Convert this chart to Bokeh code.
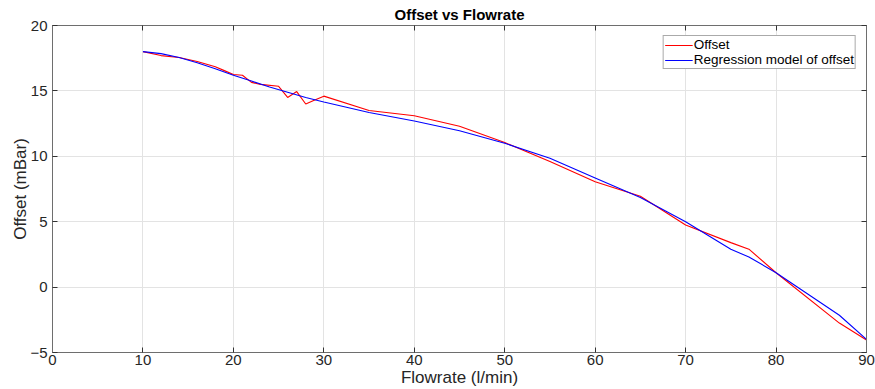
from bokeh.plotting import figure
from bokeh.models import LinearAxis, Range1d, Legend, LegendItem
from bokeh.embed import file_html
from bokeh.resources import INLINE

# Measured offset at each flowrate
flowrate = [10, 12, 14, 16, 18, 19, 20, 21, 22, 23, 25, 26, 27, 28, 29, 30,
            35, 40, 45, 50, 55, 60, 65, 70, 75, 77, 80, 87, 90]
offset = [18.0, 17.7, 17.55, 17.25, 16.85, 16.55, 16.25, 16.2, 15.65, 15.5, 15.35,
          14.5, 14.95, 14.0, 14.3, 14.6, 13.5, 13.1, 12.3, 11.05, 9.6, 8.05, 6.95,
          4.75, 3.4, 2.9, 1.1, -2.75, -4.05]
# Regression model evaluated over the same range
model_flowrate = [10, 12, 14, 16, 18, 20, 22, 24, 26, 28, 30, 35, 40, 45, 50,
                  55, 60, 65, 70, 75, 77, 80, 87, 90]
model = [18.0, 17.85, 17.55, 17.15, 16.7, 16.2, 15.75, 15.3, 14.9, 14.5, 14.15,
         13.35, 12.7, 11.95, 11.0, 9.85, 8.35, 6.85, 5.0, 2.9, 2.3, 1.1, -2.15, -4.0]

x_ticks = [0, 10, 20, 30, 40, 50, 60, 70, 80, 90]
y_ticks = [-5, 0, 5, 10, 15, 20]

FONT = "Liberation Sans"
AXIS_COL = "#6e6e6e"
TICK_COL = "#333333"
TEXT_COL = "#262626"

p = figure(width=875, height=389, output_backend="svg", toolbar_location=None,
           x_range=Range1d(0, 90), y_range=Range1d(-5, 20),
           min_border_left=52, min_border_right=9, min_border_top=4, min_border_bottom=10)

p.title.text = "Offset vs Flowrate"
p.title.align = "center"
p.title.text_font = FONT
p.title.text_font_size = "15px"
p.title.text_font_style = "bold"
p.title.text_color = "#000000"
p.title.offset = 0
p.title.standoff = 6

p.outline_line_color = None
p.background_fill_color = "white"
p.border_fill_color = "white"

for ax in p.xaxis + p.yaxis:
    ax.major_tick_in = 5
    ax.major_tick_out = 0
    ax.minor_tick_in = 0
    ax.minor_tick_out = 0
    ax.axis_line_color = AXIS_COL
    ax.major_tick_line_color = TICK_COL
    ax.major_label_text_font = FONT
    ax.major_label_text_font_size = "15px"
    ax.major_label_text_color = TEXT_COL
    ax.axis_label_text_font = FONT
    ax.axis_label_text_font_size = "17px"
    ax.axis_label_text_font_style = "normal"
    ax.axis_label_text_color = TEXT_COL

p.xaxis.ticker = x_ticks
p.yaxis.ticker = y_ticks
p.xaxis.axis_label = "Flowrate (l/min)"
p.yaxis.axis_label = "Offset (mBar)"
p.xaxis.major_label_standoff = 2
p.yaxis.major_label_standoff = 5
p.xaxis.axis_label_standoff = 0
p.yaxis.axis_label_standoff = -3

# Box-style frame: tick-only axes on top and right, labels not painted
def tick_only_axis(ticks):
    return LinearAxis(ticker=ticks, major_tick_in=5, major_tick_out=0,
                      minor_tick_in=0, minor_tick_out=0, axis_line_color=AXIS_COL,
                      major_tick_line_color=TICK_COL, major_label_text_color=None,
                      major_label_text_font_size="1px", major_label_standoff=0)

p.add_layout(tick_only_axis(x_ticks), "above")
p.add_layout(tick_only_axis(y_ticks), "right")

p.xgrid.ticker = x_ticks
p.ygrid.ticker = y_ticks
p.xgrid.grid_line_color = "#e3e3e3"
p.ygrid.grid_line_color = "#e3e3e3"

r1 = p.line(flowrate, offset, line_color="#ff0000", line_width=1.1)
r2 = p.line(model_flowrate, model, line_color="#0000ff", line_width=1.1)

legend = Legend(items=[LegendItem(label="Offset", renderers=[r1]),
                       LegendItem(label="Regression model of offset", renderers=[r2])],
                location="top_right")
legend.label_text_font = FONT
legend.label_text_font_size = "13.5px"
legend.label_text_color = "#000000"
legend.label_height = 12
legend.label_standoff = 1
legend.glyph_height = 12
legend.glyph_width = 28
legend.spacing = 0
legend.padding = 1
legend.margin = 10
legend.border_line_color = "#555555"
legend.border_line_width = 1
legend.background_fill_alpha = 1
p.add_layout(legend)

# Bottom spacing: reserve room under the x-axis label
p.min_border_bottom = 13

open("out.html", "w").write(file_html(p, INLINE))
